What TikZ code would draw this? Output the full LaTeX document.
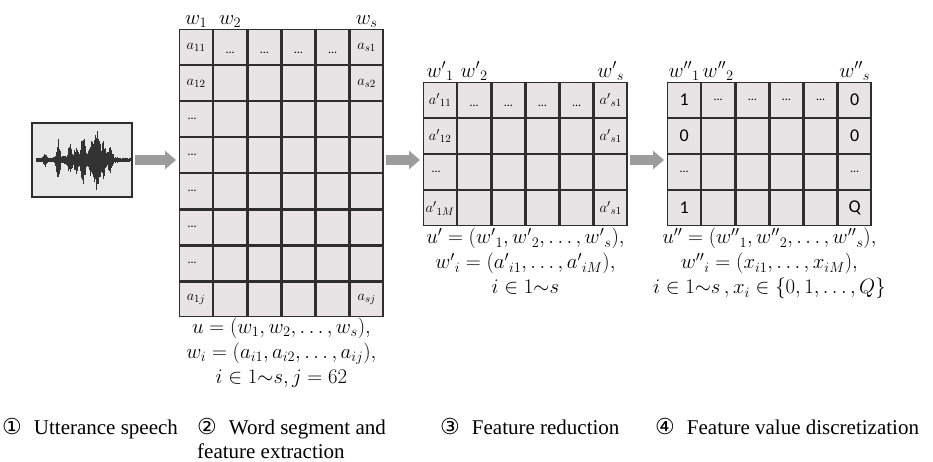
\documentclass[tikz,border=0pt]{standalone}
\usepackage{fontspec}
\setmainfont{Liberation Serif}
\setsansfont{Carlito}
\newfontfamily\circfont{DejaVu Sans}
\usetikzlibrary{positioning}
\usetikzlibrary{arrows.meta}
\usetikzlibrary{matrix}
\usetikzlibrary{calc}

\definecolor{cellgray}{HTML}{E6E4E4}
\definecolor{arrowgray}{HTML}{9C9C9C}
\definecolor{gridline}{HTML}{2E2E2E}

\newcommand\lowdots{\raisebox{-6pt}[0pt][0pt]{...}}
\newcommand\leftdots{\hspace*{-8pt}...}
\newcommand\circnum[1]{{\circfont\fontsize{22}{24}\selectfont #1}\hspace{12pt}}

\begin{document}
\begin{tikzpicture}[x=1pt,y=-1pt]
	\tikzset{
		featmat/.style={matrix of nodes, nodes in empty cells, anchor=north west, inner sep=0pt, outer sep=0pt,
			column sep=0pt, row sep=0pt,
			nodes={rectangle, anchor=center, draw=gridline, line width=1.3pt, fill=cellgray, minimum width=32.83pt, minimum height=34.75pt,
				inner sep=0pt, outer sep=0pt, font=\fontsize{15}{17}\selectfont}},
		wavebox/.style={rectangle, draw=gridline, line width=1.2pt, fill=black!9, minimum width=100pt, minimum height=74pt, inner sep=0pt},
		wavestroke/.style={draw=black!80, line width=0.7pt},
		flowarrow/.style={draw=arrowgray, line width=10pt, -{Triangle[width=18pt,length=11pt]}, shorten <=2pt, shorten >=3pt},
		colhead/.style={font=\fontsize{20}{24}\selectfont, anchor=south, inner sep=2pt},
		formula/.style={font=\fontsize{20.5}{25}\selectfont, align=center, inner sep=2pt},
		dots/.style={font=\sffamily\fontsize{12}{14}\selectfont},
		bit/.style={font=\sffamily\fontsize{18}{20}\selectfont},
		stage/.style={font=\fontsize{21}{24}\selectfont, anchor=base west, inner sep=0pt, align=left},
	}
	\useasboundingbox (0,0) rectangle (933,462);

	% speech signal
	\node[wavebox] (wave) at (82,160) {};
	\pgfmathsetseed{11}
	\draw[wavestroke] (36,159.5) -- (130,159.5);
	\foreach \x in {36,36.5,...,130} {
		\pgfmathsetmacro\env{2.5+5*max(0,1-abs(\x-85)/35)+20*max(0,1-abs(\x-58)/3)+13*max(0,1-abs(\x-70)/3)
			+9*max(0,1-abs(\x-76)/3)+27*max(0,1-abs(\x-83)/3)+16*max(0,1-abs(\x-92)/4)+34*max(0,1-abs(\x-97)/4)
			+16*max(0,1-abs(\x-103)/4)+11*max(0,1-abs(\x-110)/4)+6*max(0,1-abs(\x-45)/3)}
		\pgfmathsetmacro\up{\env*(0.55+0.45*rnd)}
		\pgfmathsetmacro\dn{\env*(0.55+0.45*rnd)}
		\draw[wavestroke] (\x,160-\up) -- (\x,160+\dn);
	}

	% word segment and feature extraction
	\matrix[featmat] (m1) at (179,29) {
		$a_{11}$ & |[dots]| \lowdots & |[dots]| \lowdots & |[dots]| \lowdots & |[dots]| \lowdots & $a_{s1}$ \\
		$a_{12}$ & & & & & $a_{s2}$ \\
		|[dots]| \leftdots & & & & & \\
		|[dots]| \leftdots & & & & & \\
		|[dots]| \leftdots & & & & & \\
		|[dots]| \leftdots & & & & & \\
		|[dots]| \leftdots & & & & & \\
		$a_{1j}$ & & & & & $a_{sj}$ \\
	};
	\node[colhead] at (m1-1-1.north) {$w_1$};
	\node[colhead] at (m1-1-2.north) {$w_2$};
	\node[colhead] at (m1-1-6.north) {$w_s$};
	\node[formula, below=-2pt of m1] (f1) {$u=(w_1,w_2,\dots,w_s),$\\$w_i=(a_{i1},a_{i2},\dots,a_{ij}),$\\$i\in 1{\sim}s, j=62$};

	% feature reduction
	\matrix[featmat] (m2) at (423,82) {
		${a'}_{11}$ & |[dots]| \lowdots & |[dots]| \lowdots & |[dots]| \lowdots & |[dots]| \lowdots & ${a'}_{s1}$ \\
		${a'}_{12}$ & & & & & ${a'}_{s1}$ \\
		|[dots]| \leftdots & & & & & \\
		${a'}_{1M}$ & & & & & ${a'}_{s1}$ \\
	};
	\node[colhead] at (m2-1-1.north) {${w'}_1$};
	\node[colhead] at (m2-1-2.north) {${w'}_2$};
	\node[colhead] at (m2-1-6.north) {${w'}_s$};
	\node[formula, below=0pt of m2] (f2) {$u'=({w'}_1,{w'}_2,\dots,{w'}_s),$\\${w'}_i=({a'}_{i1},\dots,{a'}_{iM}),$\\$i\in 1{\sim}s$};

	% feature value discretization
	\matrix[featmat] (m3) at (667,82) {
		|[bit]| 1 & |[dots]| ... & |[dots]| ... & |[dots]| ... & |[dots]| ... & |[bit]| 0 \\
		|[bit]| 0 & & & & & |[bit]| 0 \\
		|[dots]| ... & & & & & |[dots]| ... \\
		|[bit]| 1 & & & & & |[bit]| Q \\
	};
	\node[colhead] at (m3-1-1.north) {${w''}_1$};
	\node[colhead] at (m3-1-2.north) {${w''}_2$};
	\node[colhead] at (m3-1-6.north) {${w''}_s$};
	\node[formula, below=0pt of m3] (f3) {$u''=({w''}_1,{w''}_2,\dots,{w''}_s),$\\${w''}_i=(x_{i1},\dots,x_{iM}),$\\$i\in 1{\sim}s\,,x_i\in\{0,1,\dots,Q\}$};

	\draw[flowarrow] (wave.east) -- (wave.east -| m1.west);
	\draw[flowarrow] (m1.east |- wave.east) -- (m2.west |- wave.east);
	\draw[flowarrow] (m2.east |- wave.east) -- (m3.west |- wave.east);

	% stage captions (base of a two-line node is its last line)
	\node[stage] (st1) at (2,434) {\circnum{①}Utterance speech};
	\node[stage] (st2) at (197,458) {\circnum{②}Word segment and\\feature extraction};
	\node[stage] (st3) at (440,434) {\circnum{③}Feature reduction};
	\node[stage] (st4) at (655,434) {\circnum{④}Feature value discretization};
\end{tikzpicture}
\end{document}
